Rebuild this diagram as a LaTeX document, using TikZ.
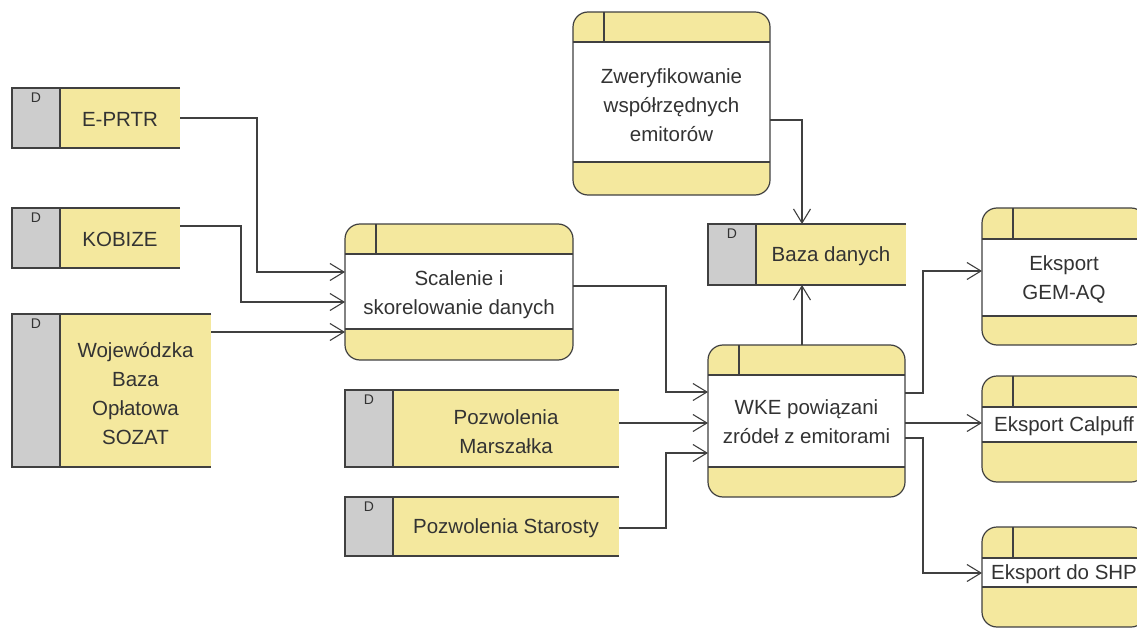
\documentclass[tikz,border=0pt]{standalone}
\usepackage{fontspec}
\setmainfont{Liberation Sans}
\usetikzlibrary{arrows.meta}
\definecolor{yel}{HTML}{F4E89E}
\definecolor{gry}{HTML}{CDCDCD}
\definecolor{ln}{HTML}{404040}
\tikzset{
  bd/.style={draw=ln, line width=1.2pt},
  flow/.style={draw=ln, line width=1.1pt, -{Straight Barb[length=14pt,width=17pt,line width=1.1pt]}},
  txt/.style={font=\fontsize{20.5}{29}\selectfont, text=black!80, align=center, inner sep=0pt},
  dlab/.style={font=\fontsize{14}{14}\selectfont, text=black!80, inner sep=0pt},
  area/.style={inner sep=0pt, outer sep=0pt}
}
% name, x1, y1, x2, y2, dy, text
\newcommand\dstore[7]{%
  \fill[gry] (#2,#3) rectangle ({#2+48},#5);
  \fill[yel] ({#2+48},#3) rectangle (#4,#5);
  \draw[bd] (#4,#3) -- (#2,#3) -- (#2,#5) -- (#4,#5) ({#2+48},#3) -- ({#2+48},#5);
  \node[dlab] (#1-d) at ({#2+24},{#3+10}) {D};
  \node[area, minimum width={(#4-#2)*1pt}, minimum height={(#5-#3)*1pt}] (#1) at ({(#2+#4)/2},{(#3+#5)/2}) {};
  \node[txt] (#1-t) at ({(#2+48+#4)/2},{(#3+#5)/2+#6}) {#7};
}
% name, x1, y1, x2, y2, header y, footer y, dy, text
\newcommand\process[9]{%
  \begin{scope}
    \clip[rounded corners=15pt] (#2,#3) rectangle (#4,#5);
    \fill[yel] (#2,#3) rectangle (#4,#5);
    \fill[white] (#2,#6) rectangle (#4,#7);
  \end{scope}
  \draw[bd] (#2,#6) -- (#4,#6) (#2,#7) -- (#4,#7) ({#2+31},#3) -- ({#2+31},#6);
  \draw[bd, rounded corners=15pt] (#2,#3) rectangle (#4,#5);
  \node[area, minimum width={(#4-#2)*1pt}, minimum height={(#5-#3)*1pt}] (#1) at ({(#2+#4)/2},{(#3+#5)/2}) {};
  \node[txt] (#1-t) at ({(#2+#4)/2},{(#6+#7)/2+#8}) {#9};
}
\begin{document}
\begin{tikzpicture}[x=1pt,y=-1pt]
\path[use as bounding box] (0,0) rectangle (1137,628);
\clip (0,0) rectangle (1137,628);
\fill[white] (0,0) rectangle (1137,628);

% data stores
\dstore{eprtr}{12}{88}{180}{148}{1}{E-PRTR}
\dstore{kobize}{12}{208}{180}{268}{1}{KOBIZE}
\dstore{woj}{12}{314}{211}{467}{3}{Wojewódzka\\Baza\\Opłatowa\\SOZAT}
\dstore{marsz}{345}{390}{619}{467}{3}{Pozwolenia\\Marszałka}
\dstore{star}{345}{497}{619}{556}{2}{Pozwolenia Starosty}
\dstore{baza}{708}{224}{906}{285}{2}{Baza danych}

% processes
\process{scal}{345}{224}{573}{360}{254}{329}{3}{Scalenie i\\skorelowanie danych}
\process{zwer}{573}{12}{770}{195}{42}{162}{3}{Zweryfikowanie\\współrzędnych\\emitorów}
\process{wke}{708}{345}{905}{497}{375}{467}{1}{WKE powiązani\\zródeł z emitorami}
\process{gem}{982}{208}{1146}{345}{239}{316}{2}{Eksport\\GEM-AQ}
\process{calp}{982}{376}{1146}{482}{407}{442}{2}{Eksport Calpuff}
\process{shp}{982}{527}{1146}{627}{558}{587}{2}{Eksport do SHP}

% flows
\draw[flow] (eprtr.east) -| (257,272) -- (scal.west |- 0,272);
\draw[flow] (kobize.east |- 0,226) -| (241,302) -- (scal.west |- 0,302);
\draw[flow] (woj.east |- 0,332) -- (scal.west |- 0,332);
\draw[flow] (scal.east |- 0,286) -| (666,392) -- (wke.west |- 0,392);
\draw[flow] (marsz.east |- 0,423) -- (wke.west |- 0,423);
\draw[flow] (star.east |- 0,528) -| (666,453) -- (wke.west |- 0,453);
\draw[flow] (zwer.east |- 0,120) -| (baza.north -| 802,0);
\draw[flow] (wke.north -| 802,0) -- (baza.south -| 802,0);
\draw[flow] (wke.east |- 0,393) -| (923,271) -- (gem.west |- 0,271);
\draw[flow] (wke.east |- 0,423) -- (calp.west |- 0,423);
\draw[flow] (wke.east |- 0,438) -| (923,573) -- (shp.west |- 0,573);
\end{tikzpicture}
\end{document}
